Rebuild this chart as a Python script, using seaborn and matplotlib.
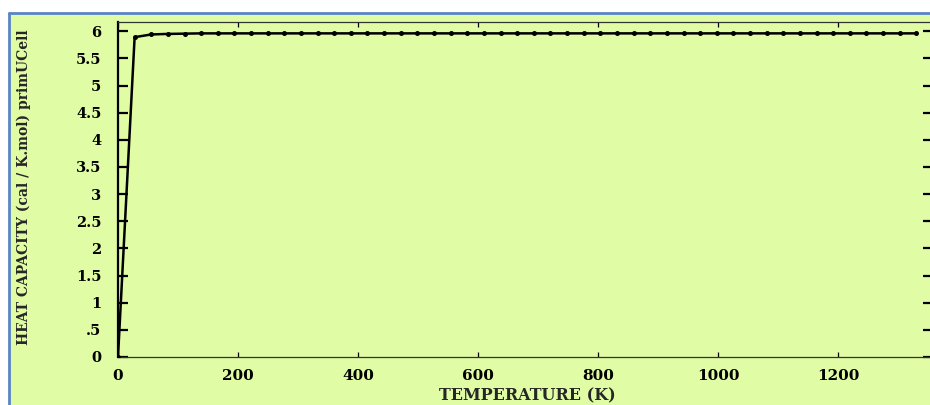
import matplotlib
matplotlib.use("Agg")
import matplotlib.pyplot as plt
from matplotlib.patches import Rectangle
from matplotlib.lines import Line2D
import seaborn as sns
import pandas as pd

# Heat capacity of the primitive unit cell versus temperature
temperature_k = [
    0.0, 27.7, 55.4, 83.2, 110.9, 138.6, 166.3, 194.0, 221.8, 249.5,
    277.2, 304.9, 332.6, 360.4, 388.1, 415.8, 443.5, 471.2, 499.0, 526.7,
    554.4, 582.1, 609.8, 637.6, 665.3, 693.0, 720.7, 748.4, 776.2, 803.9,
    831.6, 859.3, 887.0, 914.8, 942.5, 970.2, 997.9, 1025.6, 1053.4, 1081.1,
    1108.8, 1136.5, 1164.2, 1192.0, 1219.7, 1247.4, 1275.1, 1302.8, 1330.6,
]
heat_capacity = [
    0.0, 5.89, 5.94, 5.95, 5.955, 5.96, 5.96, 5.96, 5.96, 5.96,
    5.96, 5.96, 5.96, 5.96, 5.96, 5.96, 5.96, 5.96, 5.96, 5.96,
    5.96, 5.96, 5.96, 5.96, 5.96, 5.96, 5.96, 5.96, 5.96, 5.96,
    5.96, 5.96, 5.96, 5.96, 5.96, 5.96, 5.96, 5.96, 5.96, 5.96,
    5.96, 5.96, 5.96, 5.96, 5.96, 5.96, 5.96, 5.96, 5.96,
]
x_ticks = [0, 200, 400, 600, 800, 1000, 1200]
x_tick_labels = ["0", "200", "400", "600", "800", "1000", "1200"]
y_ticks = [0, 0.5, 1, 1.5, 2, 2.5, 3, 3.5, 4, 4.5, 5, 5.5, 6]
y_tick_labels = ["0", ".5", "1", "1.5", "2", "2.5", "3", "3.5", "4", "4.5", "5", "5.5", "6"]

x_title = "TEMPERATURE (K)"
y_title = "HEAT CAPACITY (cal / K.mol) primUCell"

GREEN = "#e0fca4"
BLUE = "#5a85c5"

sns.set_style("ticks")
plt.rcParams["font.family"] = ["DejaVu Serif"]
plt.rcParams["font.weight"] = "bold"

W, H = 930, 405
fig = plt.figure(figsize=(W / 100, H / 100), dpi=100)
fig.patch.set_facecolor("white")

# panel background with the thin blue frame on the top and left
fig.patches.append(Rectangle((9 / W, 0), 1, (H - 13) / H, transform=fig.transFigure,
                             facecolor=GREEN, edgecolor="none", zorder=-5))
fig.add_artist(Line2D([9 / W, 9 / W], [0, (H - 13) / H], transform=fig.transFigure,
                      color=BLUE, lw=2, zorder=-4))
fig.add_artist(Line2D([9 / W, 1], [(H - 13) / H, (H - 13) / H], transform=fig.transFigure,
                      color=BLUE, lw=2, zorder=-4))

left, right, top, bottom = 118, 933, 22, 357
ax = fig.add_axes([left / W, (H - bottom) / H, (right - left) / W, (bottom - top) / H])
ax.set_facecolor(GREEN)

df = pd.DataFrame({"T": temperature_k, "Cv": heat_capacity})
sns.lineplot(data=df, x="T", y="Cv", ax=ax, color="black", lw=1.8,
             marker="o", markersize=3.6, markeredgewidth=0, zorder=3)

ax.set_xlim(0, (right - left) / 0.6)
ax.set_ylim(0, (bottom - top) / 54.3)

ax.set_xticks(x_ticks)
ax.set_xticklabels(x_tick_labels, fontsize=11, fontweight="bold")
ax.set_yticks(y_ticks)
ax.set_yticklabels(y_tick_labels, fontsize=10.5, fontweight="bold")

ax.tick_params(axis="y", direction="in", length=7.2, width=1.6, left=True, right=True,
               pad=12, colors="black")
ax.tick_params(axis="x", direction="in", length=3.6, width=0.9, bottom=True, top=True,
               pad=9, colors="black")
for t in ax.get_xticklines():
    t.set_color("#333333")

for name, sp in ax.spines.items():
    sp.set_visible(True)
    sp.set_color("black")
ax.spines["left"].set_linewidth(1.6)
ax.spines["right"].set_linewidth(1.6)
ax.spines["top"].set_linewidth(0.9)
ax.spines["bottom"].set_linewidth(0.9)
ax.spines["top"].set_color("#333333")
ax.spines["bottom"].set_color("#333333")

ax.set_xlabel(x_title, fontsize=11.5, fontweight="bold")
ax.xaxis.label.set_va("bottom")
ax.xaxis.set_label_coords((527 - left) / (right - left), -(404.5 - bottom) / (bottom - top))

ax.set_ylabel(y_title, fontsize=10, fontweight="bold")
ax.yaxis.label.set_va("center")
ax.yaxis.set_label_coords((24 - left) / (right - left), (bottom - 187) / (bottom - top))

fig.savefig("out.png", dpi=100, facecolor=fig.get_facecolor())
